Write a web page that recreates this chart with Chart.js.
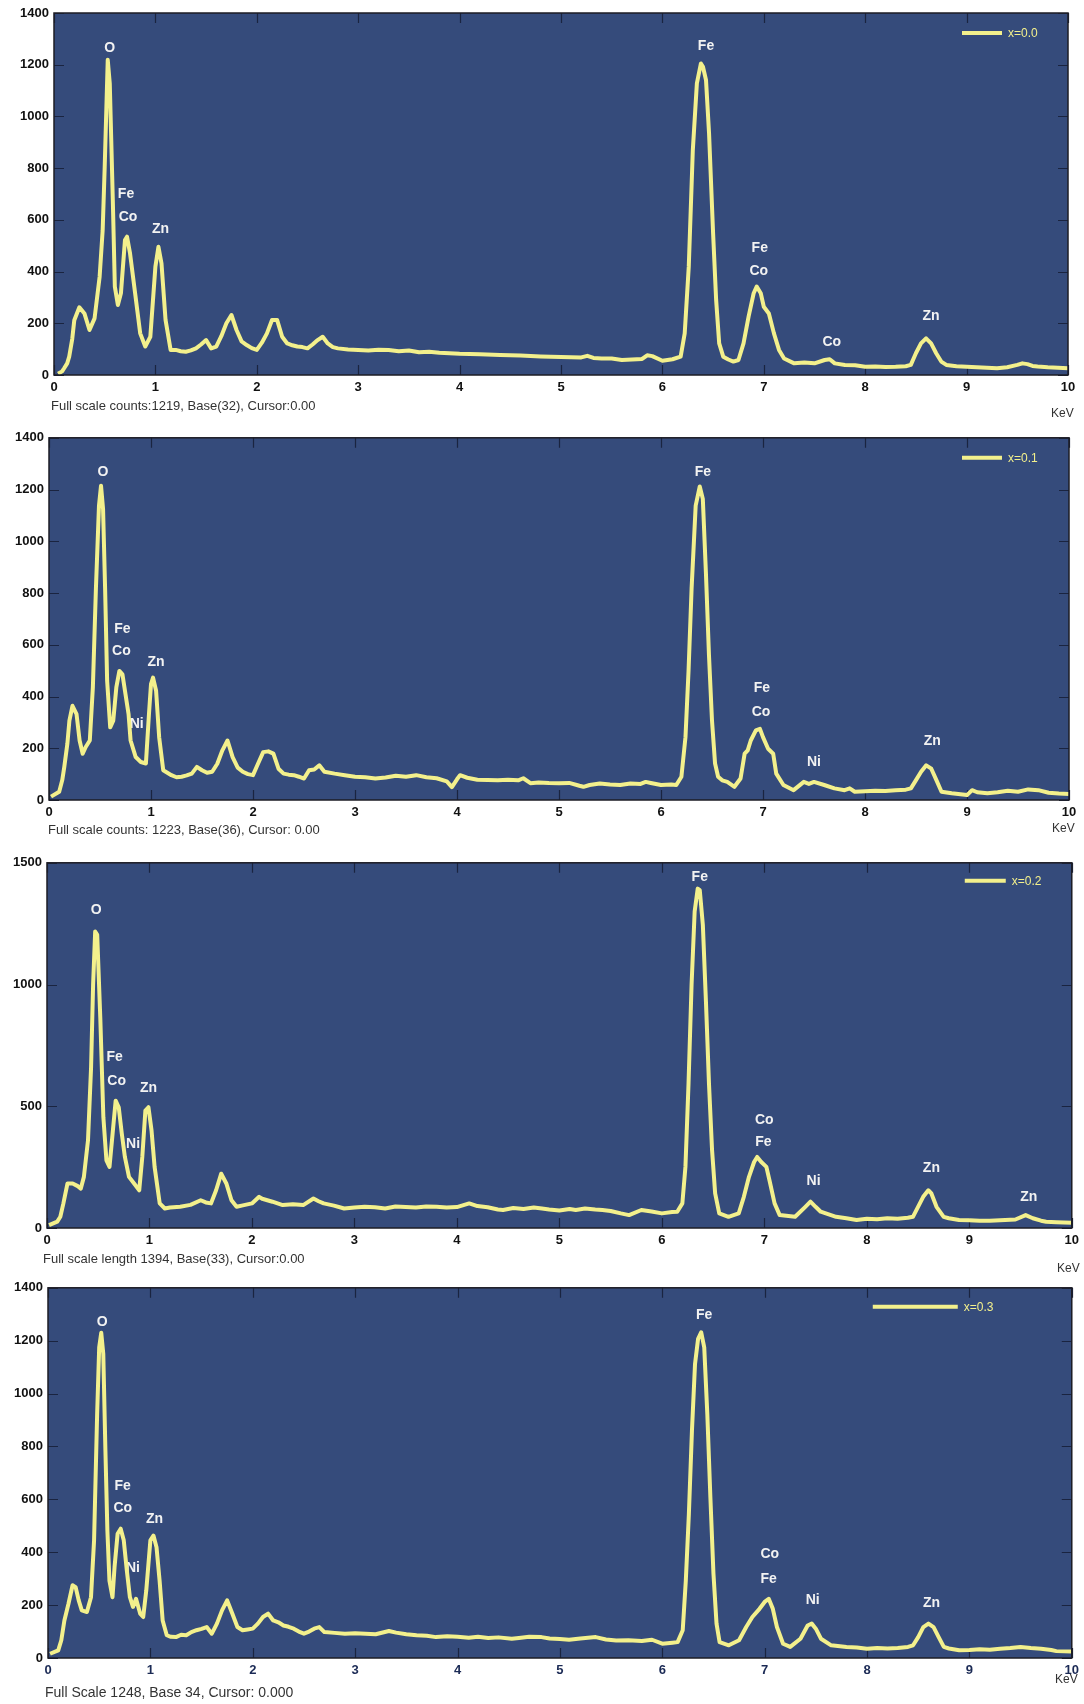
<!DOCTYPE html>
<html>
<head>
<meta charset="utf-8">
<script src="https://cdn.jsdelivr.net/npm/chart.js@4/dist/chart.umd.min.js"></script>
<style>
  body { margin: 0; background: #fff; width: 1084px; height: 1704px; position: relative; overflow: hidden; }
  canvas { position: absolute; left: 0; }
  .note { position: absolute; font-family: "Liberation Sans", Arial, sans-serif; color: #333; line-height: 16px; white-space: nowrap; }
</style>
</head>
<body>
<canvas id="c1"></canvas>
<canvas id="c2"></canvas>
<canvas id="c3"></canvas>
<canvas id="c4"></canvas>

<div class="note" style="left:51px;top:398px;font-size:13px">Full scale counts:1219, Base(32), Cursor:0.00</div>
<div class="note" style="left:1051px;top:405px;font-size:12px">KeV</div>
<div class="note" style="left:48px;top:822px;font-size:13px">Full scale counts: 1223, Base(36), Cursor: 0.00</div>
<div class="note" style="left:1052px;top:820px;font-size:12px">KeV</div>
<div class="note" style="left:43px;top:1251px;font-size:13px">Full scale length 1394, Base(33), Cursor:0.00</div>
<div class="note" style="left:1057px;top:1260px;font-size:12px">KeV</div>
<div class="note" style="left:45px;top:1684px;font-size:14px">Full Scale 1248, Base 34, Cursor: 0.000</div>
<div class="note" style="left:1055px;top:1671px;font-size:12px">KeV</div>

<script>
// spectra: [keV, counts]
const spectrumX00 = [[0.04,5],[0.08,14],[0.1,26],[0.13,45],[0.15,71],[0.18,140],[0.2,212],[0.25,262],[0.3,238],[0.35,174],[0.4,219],[0.45,380],[0.48,560],[0.5,805],[0.53,1219],[0.55,1128],[0.58,677],[0.6,342],[0.63,271],[0.66,316],[0.7,522],[0.72,535],[0.75,470],[0.8,316],[0.85,161],[0.9,110],[0.95,148],[1.0,419],[1.03,496],[1.06,432],[1.1,213],[1.15,97],[1.2,97],[1.25,92],[1.3,90],[1.35,95],[1.4,103],[1.45,118],[1.5,135],[1.55,103],[1.6,110],[1.65,150],[1.7,200],[1.75,232],[1.8,174],[1.85,130],[1.9,116],[1.95,104],[2.0,97],[2.05,125],[2.1,161],[2.15,213],[2.2,213],[2.25,148],[2.3,122],[2.35,115],[2.4,110],[2.45,108],[2.5,103],[2.55,118],[2.6,135],[2.65,148],[2.7,122],[2.75,108],[2.8,103],[2.9,99],[3.0,97],[3.1,95],[3.2,98],[3.3,97],[3.4,92],[3.5,95],[3.6,88],[3.7,90],[3.8,86],[3.9,84],[4.0,82],[4.2,80],[4.4,77],[4.6,75],[4.8,72],[5.0,70],[5.2,68],[5.26,74],[5.32,66],[5.4,64],[5.5,64],[5.6,58],[5.7,60],[5.8,62],[5.85,76],[5.9,73],[6.0,55],[6.1,61],[6.18,71],[6.22,161],[6.26,419],[6.3,870],[6.34,1128],[6.38,1205],[6.4,1192],[6.43,1141],[6.46,935],[6.5,548],[6.53,290],[6.56,122],[6.6,71],[6.65,60],[6.7,52],[6.75,58],[6.8,122],[6.85,226],[6.9,316],[6.93,342],[6.97,316],[7.0,264],[7.05,238],[7.1,161],[7.15,97],[7.2,64],[7.3,45],[7.4,48],[7.5,45],[7.6,58],[7.65,61],[7.7,45],[7.8,39],[7.9,38],[8.0,32],[8.1,33],[8.2,31],[8.3,32],[8.4,34],[8.45,39],[8.5,84],[8.55,122],[8.6,142],[8.65,122],[8.7,84],[8.75,52],[8.8,39],[8.9,34],[9.0,32],[9.1,30],[9.2,28],[9.3,26],[9.4,30],[9.5,39],[9.55,45],[9.6,42],[9.65,35],[9.7,33],[9.8,30],[9.9,28],[10,26]];

const spectrumX01 = [[0.02,13],[0.1,32],[0.13,77],[0.15,128],[0.18,217],[0.2,307],[0.23,364],[0.27,332],[0.3,230],[0.33,179],[0.36,205],[0.4,230],[0.43,435],[0.46,818],[0.49,1138],[0.51,1215],[0.53,1125],[0.55,818],[0.57,460],[0.6,281],[0.63,307],[0.66,435],[0.69,499],[0.72,486],[0.75,409],[0.78,332],[0.8,230],[0.85,166],[0.9,147],[0.95,141],[0.98,332],[1.0,448],[1.02,473],[1.05,422],[1.08,243],[1.12,115],[1.2,96],[1.25,88],[1.3,90],[1.35,95],[1.4,102],[1.45,128],[1.5,115],[1.55,105],[1.6,109],[1.65,140],[1.7,192],[1.75,230],[1.8,166],[1.85,125],[1.9,109],[1.95,100],[2.0,96],[2.05,141],[2.1,185],[2.15,188],[2.2,179],[2.25,121],[2.3,102],[2.35,98],[2.4,96],[2.45,90],[2.5,83],[2.55,115],[2.6,118],[2.65,134],[2.7,109],[2.8,102],[2.9,96],[3.0,90],[3.1,88],[3.2,83],[3.3,87],[3.4,94],[3.5,90],[3.6,96],[3.7,88],[3.8,84],[3.9,72],[3.95,50],[4.0,80],[4.03,96],[4.1,86],[4.2,78],[4.3,77],[4.4,76],[4.5,78],[4.6,76],[4.65,84],[4.72,65],[4.8,68],[4.9,66],[5.0,65],[5.1,66],[5.2,55],[5.24,51],[5.3,58],[5.4,64],[5.5,60],[5.6,58],[5.7,64],[5.8,62],[5.85,70],[5.9,66],[6.0,58],[6.1,60],[6.15,58],[6.2,90],[6.24,243],[6.27,499],[6.3,818],[6.34,1138],[6.38,1212],[6.41,1164],[6.44,882],[6.47,563],[6.5,307],[6.53,141],[6.56,90],[6.6,76],[6.65,70],[6.72,51],[6.78,83],[6.82,179],[6.85,192],[6.88,230],[6.93,269],[6.97,275],[7.0,243],[7.05,198],[7.1,179],[7.13,102],[7.2,58],[7.3,38],[7.4,70],[7.45,62],[7.5,70],[7.6,58],[7.7,45],[7.8,38],[7.85,45],[7.9,32],[8.0,34],[8.1,36],[8.2,35],[8.3,38],[8.4,40],[8.45,45],[8.5,77],[8.55,109],[8.6,134],[8.65,121],[8.7,77],[8.75,32],[8.85,26],[9.0,19],[9.05,38],[9.1,30],[9.2,26],[9.3,30],[9.4,36],[9.5,32],[9.6,41],[9.7,38],[9.8,28],[9.9,25],[10,23]];

const spectrumX02 = [[0.02,12],[0.1,26],[0.13,46],[0.16,101],[0.2,183],[0.25,183],[0.3,172],[0.33,162],[0.36,210],[0.4,360],[0.43,659],[0.45,1000],[0.47,1218],[0.49,1204],[0.52,864],[0.55,455],[0.58,278],[0.61,251],[0.64,387],[0.67,523],[0.7,496],[0.73,387],[0.76,292],[0.8,210],[0.85,183],[0.9,155],[0.93,292],[0.96,482],[0.99,496],[1.02,401],[1.05,251],[1.1,101],[1.15,80],[1.2,84],[1.3,87],[1.4,95],[1.5,114],[1.55,105],[1.6,101],[1.65,155],[1.7,223],[1.75,183],[1.8,114],[1.85,87],[1.9,92],[2.0,101],[2.07,128],[2.1,120],[2.15,114],[2.2,108],[2.3,94],[2.4,98],[2.5,94],[2.6,121],[2.65,110],[2.7,101],[2.8,92],[2.9,80],[3.0,84],[3.1,87],[3.2,85],[3.3,80],[3.4,88],[3.5,86],[3.6,84],[3.7,88],[3.8,87],[3.9,84],[4.0,86],[4.12,101],[4.2,90],[4.3,85],[4.4,76],[4.45,74],[4.55,82],[4.65,78],[4.75,84],[4.83,80],[4.9,76],[5.0,72],[5.1,78],[5.16,74],[5.25,80],[5.35,76],[5.42,74],[5.5,70],[5.6,60],[5.68,53],[5.8,74],[5.9,68],[6.0,60],[6.1,66],[6.15,67],[6.2,101],[6.23,251],[6.26,591],[6.29,1000],[6.32,1300],[6.35,1394],[6.37,1388],[6.4,1245],[6.43,932],[6.46,591],[6.49,319],[6.52,142],[6.56,60],[6.65,46],[6.75,60],[6.8,128],[6.85,210],[6.9,271],[6.93,292],[6.97,271],[7.02,251],[7.05,196],[7.1,101],[7.15,53],[7.3,46],[7.4,87],[7.45,108],[7.5,87],[7.55,67],[7.6,60],[7.7,46],[7.8,40],[7.9,33],[8.0,38],[8.1,36],[8.2,40],[8.3,38],[8.4,42],[8.45,46],[8.5,87],[8.55,128],[8.6,155],[8.63,142],[8.68,87],[8.75,46],[8.8,40],[8.9,33],[9.0,32],[9.1,30],[9.2,30],[9.3,32],[9.4,34],[9.45,35],[9.55,53],[9.62,40],[9.7,30],[9.75,26],[9.85,24],[10,22]];

const spectrumX03 = [[0.02,16],[0.1,29],[0.13,67],[0.16,142],[0.2,205],[0.24,275],[0.27,268],[0.3,218],[0.33,180],[0.38,174],[0.42,230],[0.45,445],[0.48,923],[0.5,1175],[0.52,1230],[0.54,1150],[0.56,797],[0.58,482],[0.6,293],[0.63,230],[0.65,344],[0.68,470],[0.71,489],[0.74,445],[0.77,331],[0.8,230],[0.83,193],[0.86,224],[0.9,168],[0.93,155],[0.96,256],[1.0,445],[1.03,463],[1.06,419],[1.09,293],[1.12,142],[1.16,86],[1.2,80],[1.25,79],[1.3,88],[1.35,86],[1.4,98],[1.45,105],[1.5,110],[1.55,117],[1.6,92],[1.65,130],[1.7,180],[1.75,218],[1.8,168],[1.85,117],[1.9,105],[1.95,108],[2.0,111],[2.05,130],[2.1,155],[2.15,168],[2.2,142],[2.25,135],[2.3,123],[2.35,118],[2.4,111],[2.45,100],[2.5,92],[2.55,100],[2.6,111],[2.65,117],[2.7,98],[2.8,95],[2.9,92],[3.0,94],[3.1,92],[3.2,90],[3.33,102],[3.4,96],[3.5,90],[3.6,86],[3.7,84],[3.79,79],[3.9,82],[4.0,80],[4.11,77],[4.2,80],[4.3,76],[4.4,78],[4.53,73],[4.6,76],[4.7,80],[4.82,79],[4.9,74],[5.0,72],[5.09,69],[5.2,74],[5.35,79],[5.45,70],[5.55,66],[5.67,67],[5.8,64],[5.9,69],[6.0,54],[6.1,58],[6.15,60],[6.2,105],[6.23,293],[6.26,545],[6.29,860],[6.32,1112],[6.35,1207],[6.38,1232],[6.41,1175],[6.44,923],[6.47,608],[6.5,319],[6.53,130],[6.56,60],[6.65,48],[6.75,67],[6.82,117],[6.88,155],[6.95,186],[7.0,212],[7.04,224],[7.08,186],[7.12,117],[7.18,54],[7.25,42],[7.35,73],[7.42,123],[7.46,130],[7.5,111],[7.55,73],[7.65,48],[7.8,42],[7.9,40],[8.0,35],[8.1,38],[8.2,36],[8.3,38],[8.4,42],[8.45,48],[8.5,79],[8.55,117],[8.6,130],[8.65,117],[8.7,79],[8.75,42],[8.8,36],[8.9,29],[9.0,30],[9.1,33],[9.2,31],[9.3,35],[9.4,38],[9.5,42],[9.6,38],[9.7,35],[9.8,30],[9.85,26],[10,25]];

// peak labels: [text, keV, counts]
const peaksX00 = [["O",0.55,1264],["Fe",0.71,700],["Co",0.73,611],["Zn",1.05,564],["Fe",6.43,1272],["Fe",6.96,491],["Co",6.95,402],["Co",7.67,128],["Zn",8.65,228]];
const peaksX01 = [["O",0.53,1266],["Fe",0.72,660],["Co",0.71,575],["Zn",1.05,533],["Ni",0.86,295],["Fe",6.41,1266],["Fe",6.99,433],["Co",6.98,338],["Ni",7.5,146],["Zn",8.66,226]];
const peaksX02 = [["O",0.48,1304],["Fe",0.66,700],["Co",0.68,605],["Zn",0.99,573],["Ni",0.84,343],["Fe",6.37,1443],["Co",7.0,444],["Fe",6.99,353],["Ni",7.48,192],["Zn",8.63,245],["Zn",9.58,128]];
const peaksX03 = [["O",0.53,1270],["Fe",0.73,649],["Co",0.73,568],["Zn",1.04,525],["Ni",0.83,338],["Fe",6.41,1295],["Co",7.05,391],["Fe",7.04,297],["Ni",7.47,218],["Zn",8.63,209]];

const seriesNames = ["x=0.0", "x=0.1", "x=0.2", "x=0.3"];
const yMax = [1400, 1400, 1500, 1400];
const yStep = [200, 200, 500, 200];
const xTicksMax = 10;

const FONT = '"Liberation Sans", Arial, sans-serif';
const BG = '#354b7b';
const LINE = '#f3f08c';

// page layout of each panel (canvas top/height, plot box)
const panels = [
  { id: 'c1', top: 0,    height: 425, left: 54, right: 1068, areaTop: 13,   areaBottom: 375,  legend: [106, 66, 20], xTickColor: '#111' },
  { id: 'c2', top: 425,  height: 425, left: 49, right: 1069, areaTop: 435,  areaBottom: 800,  legend: [107, 67, 20], xTickColor: '#111' },
  { id: 'c3', top: 850,  height: 425, left: 47, right: 1073, areaTop: 861,  areaBottom: 1228, legend: [107, 66, 18], xTickColor: '#111' },
  { id: 'c4', top: 1275, height: 429, left: 48, right: 1075, areaTop: 1287, areaBottom: 1658, legend: [199, 114, 19], xTickColor: '#1b2a55' }
];
const spectra = [spectrumX00, spectrumX01, spectrumX02, spectrumX03];
const peaks = [peaksX00, peaksX01, peaksX02, peaksX03];

const Y_AXIS_W = 45;

const framePlugin = {
  id: 'frame',
  beforeDatasetsDraw(chart, args, opts) {
    const { ctx, chartArea: a, scales } = chart;
    ctx.save();
    ctx.fillStyle = BG;
    ctx.fillRect(a.left, a.top, a.right - a.left, a.bottom - a.top);
    // inward ticks on all sides
    ctx.strokeStyle = '#1a2440';
    ctx.lineWidth = 1.2;
    ctx.beginPath();
    scales.x.ticks.forEach(t => {
      const px = Math.round(scales.x.getPixelForValue(t.value)) + 0.5;
      ctx.moveTo(px, a.bottom); ctx.lineTo(px, a.bottom - 10);
      ctx.moveTo(px, a.top); ctx.lineTo(px, a.top + 10);
    });
    scales.y.ticks.forEach(t => {
      const py = Math.round(scales.y.getPixelForValue(t.value)) + 0.5;
      ctx.moveTo(a.left, py); ctx.lineTo(a.left + 10, py);
      ctx.moveTo(a.right, py); ctx.lineTo(a.right - 10, py);
    });
    ctx.stroke();
    // peak labels, under the trace
    ctx.fillStyle = '#f2f2f2';
    ctx.font = 'bold 14px ' + FONT;
    ctx.textAlign = 'center';
    ctx.textBaseline = 'middle';
    opts.peaks.forEach(([txt, kev, cnt]) => {
      ctx.fillText(txt, scales.x.getPixelForValue(kev), scales.y.getPixelForValue(cnt));
    });
    // legend
    const [l1, l2, dy] = opts.legend;
    ctx.strokeStyle = LINE;
    ctx.lineWidth = 4;
    ctx.beginPath();
    ctx.moveTo(a.right - l1, a.top + dy);
    ctx.lineTo(a.right - l2, a.top + dy);
    ctx.stroke();
    ctx.fillStyle = LINE;
    ctx.font = '12px ' + FONT;
    ctx.textAlign = 'left';
    ctx.fillText(opts.name, a.right - l2 + 6, a.top + dy + 1);
    ctx.restore();
  },
  afterDraw(chart) {
    const { ctx, chartArea: a } = chart;
    ctx.save();
    ctx.strokeStyle = '#1c1c24';
    ctx.lineWidth = 1.5;
    ctx.strokeRect(a.left, a.top, a.right - a.left, a.bottom - a.top);
    ctx.restore();
  }
};

panels.forEach((p, i) => {
  const cv = document.getElementById(p.id);
  cv.width = 1084;
  cv.height = p.height;
  cv.style.top = p.top + 'px';
  const xH = p.top + p.height - p.areaBottom;

  new Chart(cv.getContext('2d'), {
    type: 'line',
    data: {
      datasets: [{
        label: seriesNames[i],
        data: spectra[i].map(([x, y]) => ({ x, y })),
        borderColor: LINE,
        borderWidth: 4,
        borderJoinStyle: 'round',
        pointRadius: 0,
        tension: 0,
        fill: false
      }]
    },
    options: {
      responsive: false,
      animation: false,
      devicePixelRatio: 1,
      layout: {
        padding: { left: p.left - Y_AXIS_W, right: 1084 - p.right, top: p.areaTop - p.top, bottom: 0 }
      },
      plugins: {
        legend: { display: false },
        tooltip: { enabled: false },
        frame: { peaks: peaks[i], legend: p.legend, name: seriesNames[i] }
      },
      scales: {
        x: {
          type: 'linear',
          min: 0,
          max: xTicksMax,
          grid: { display: false, drawTicks: false },
          border: { display: false },
          ticks: { stepSize: 1, padding: 5, color: p.xTickColor, font: { family: FONT, size: 13, weight: 'bold' }, maxRotation: 0,
                   callback: v => String(v) },
          afterFit(s) { s.height = xH; }
        },
        y: {
          min: 0,
          max: yMax[i],
          grid: { display: false, drawTicks: false },
          border: { display: false },
          ticks: { stepSize: yStep[i], padding: 5, color: '#111', font: { family: FONT, size: 13, weight: 'bold' },
                   callback: v => String(v) },
          afterFit(s) { s.width = Y_AXIS_W; }
        }
      }
    },
    plugins: [framePlugin]
  });
});
</script>
</body>
</html>
